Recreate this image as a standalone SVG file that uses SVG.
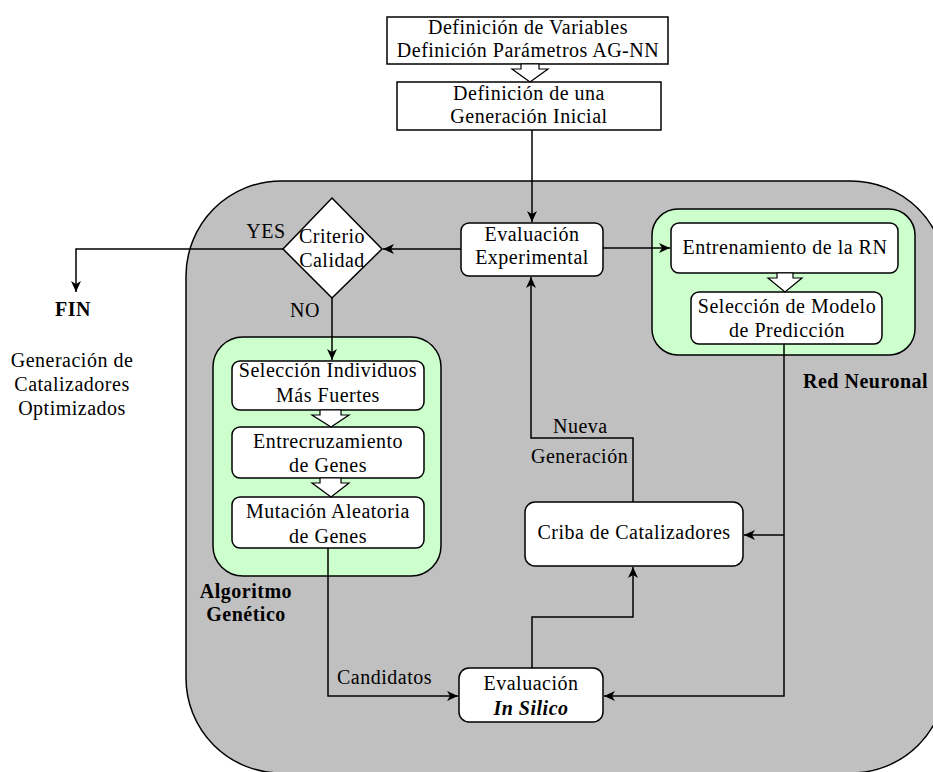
<svg xmlns="http://www.w3.org/2000/svg" width="933" height="772" viewBox="0 0 933 772">
  <defs>
    <marker id="arr" markerWidth="12" markerHeight="12" refX="11" refY="6" orient="auto" markerUnits="userSpaceOnUse">
      <path d="M0,1 L11,6 L0,11 L3,6 Z" fill="#000"/>
    </marker>
    <style>
      text { font-family: "Liberation Serif", "Times New Roman", serif; font-size: 20px; letter-spacing: 0.5px; fill: #000; text-anchor: middle; }
      .b { font-weight: bold; }
      .l { text-anchor: start; }
      .box { fill: #fff; stroke: #000; stroke-width: 1.5; }
      .grp { fill: #ccffcc; stroke: #000; stroke-width: 1.5; }
      .blk { fill: #fff; stroke: #000; stroke-width: 1.2; }
      .con path { fill: none; stroke: #000; stroke-width: 1.5; }
    </style>
  </defs>
  <rect width="933" height="772" fill="#fff"/>

  <!-- shaded loop region -->
  <rect id="loop" x="186" y="181" width="760" height="592" rx="95" ry="95" fill="#c0c0c0" stroke="#000" stroke-width="1.5"/>

  <!-- group panels -->
  <rect id="panel-rn" class="grp" x="652" y="209" width="263" height="146" rx="26"/>
  <rect id="panel-ag" class="grp" x="213" y="337" width="228" height="239" rx="30"/>

  <g id="def-variables">
    <rect class="box" x="387" y="17" width="281" height="47"/>
    <text x="528" y="34">Definición de Variables</text>
    <text x="528" y="57">Definición Parámetros AG-NN</text>
  </g>
  <g id="gen-inicial">
    <rect class="box" x="397" y="82" width="264" height="48"/>
    <text x="529" y="100">Definición de una</text>
    <text x="529" y="123">Generación Inicial</text>
  </g>
  <g id="eval-exp">
    <rect class="box" x="461" y="223" width="142" height="53" rx="8"/>
    <text x="532" y="241">Evaluación</text>
    <text x="532" y="264">Experimental</text>
  </g>
  <g id="criterio">
    <polygon class="box" points="332,198 382,249 332,298 283,249"/>
    <text x="332" y="243">Criterio</text>
    <text x="332" y="267">Calidad</text>
  </g>
  <g id="entrenamiento">
    <rect class="box" x="671" y="223" width="227" height="50" rx="8"/>
    <text x="785" y="254">Entrenamiento de la RN</text>
  </g>
  <g id="seleccion-modelo">
    <rect class="box" x="691" y="292" width="191" height="52" rx="8"/>
    <text x="787" y="313">Selección de Modelo</text>
    <text x="787" y="337">de Predicción</text>
  </g>
  <g id="seleccion-ind">
    <rect class="box" x="232" y="361" width="192" height="49" rx="8"/>
    <text x="328" y="377">Selección Individuos</text>
    <text x="328" y="402">Más Fuertes</text>
  </g>
  <g id="entrecruzamiento">
    <rect class="box" x="232" y="427" width="192" height="51" rx="8"/>
    <text x="328" y="448">Entrecruzamiento</text>
    <text x="328" y="472">de Genes</text>
  </g>
  <g id="mutacion">
    <rect class="box" x="232" y="497" width="192" height="51" rx="8"/>
    <text x="328" y="518">Mutación Aleatoria</text>
    <text x="328" y="543">de Genes</text>
  </g>
  <g id="criba">
    <rect class="box" x="525" y="502" width="218" height="64" rx="10"/>
    <text x="634" y="539">Criba de Catalizadores</text>
  </g>
  <g id="in-silico">
    <rect class="box" x="459" y="668" width="144" height="54" rx="10"/>
    <text x="531" y="690">Evaluación</text>
    <text x="531" y="715" class="b" font-style="italic">In Silico</text>
  </g>
  <g id="fin">
    <text x="73" y="316" class="b">FIN</text>
    <text x="72" y="367">Generación de</text>
    <text x="72" y="391">Catalizadores</text>
    <text x="72" y="415">Optimizados</text>
  </g>

  <!-- block arrows between stacked steps -->
  <g id="block-arrows">
    <path class="blk" d="M521,64 V69 H512 L530,82 L548,69 H539 V64 Z"/>
    <path class="blk" d="M777,273 V278 H768 L785,292 L802,278 H793 V273 Z"/>
    <path class="blk" d="M320,410 V415 H312 L331,427 L349,415 H341 V410 Z"/>
    <path class="blk" d="M320,478 V483 H312 L331,497 L349,483 H341 V478 Z"/>
  </g>

  <g id="connectors" class="con">
    <path d="M532,130 V222" marker-end="url(#arr)"/>
    <path d="M461,249 H383" marker-end="url(#arr)"/>
    <path d="M603,248 H670" marker-end="url(#arr)"/>
    <path d="M283,249 H76 V292" marker-end="url(#arr)"/>
    <path d="M332,298 V360" marker-end="url(#arr)"/>
    <path d="M328,548 V696 H458" marker-end="url(#arr)"/>
    <path d="M784,344 V696 H604" marker-end="url(#arr)"/>
    <path d="M784,535 H744" marker-end="url(#arr)"/>
    <path d="M532,668 V617 H633 V567" marker-end="url(#arr)"/>
    <path d="M633,502 V438 H531 V277" marker-end="url(#arr)"/>
  </g>

  <!-- labels -->
  <g id="labels">
    <text x="266" y="238">YES</text>
    <text x="305" y="317">NO</text>
    <text x="553" y="433" class="l">Nueva</text>
    <text x="531" y="463" class="l">Generación</text>
    <text x="337" y="684" class="l">Candidatos</text>
    <text x="803" y="388" class="l b">Red Neuronal</text>
    <text x="246" y="598" class="b">Algoritmo</text>
    <text x="246" y="621" class="b">Genético</text>
  </g>
</svg>
